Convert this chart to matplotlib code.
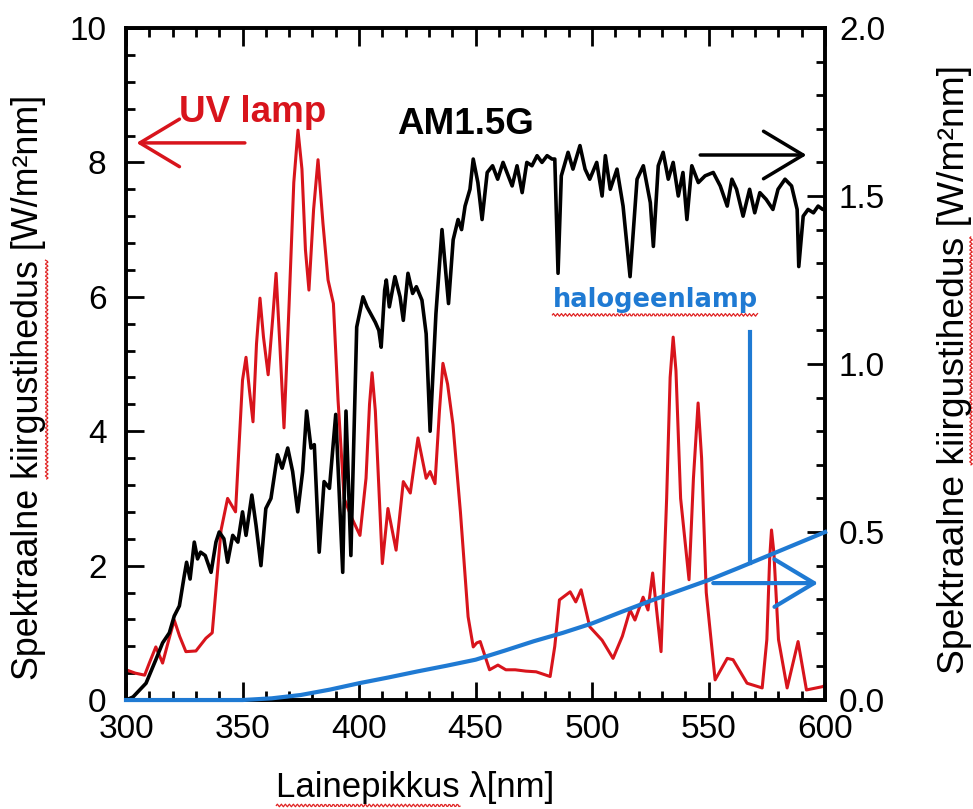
import numpy as np
import matplotlib
matplotlib.use('Agg')
import matplotlib.pyplot as plt
from matplotlib.ticker import MultipleLocator, FormatStrFormatter
from matplotlib.lines import Line2D

plt.rcParams['font.family'] = ['Liberation Sans', 'DejaVu Sans']

RED = '#d8141c'
BLUE = '#1f7ad3'
LABEL_FONT = ['Liberation Sans Narrow', 'Liberation Sans', 'DejaVu Sans']

# UV lamp spectrum, left axis [W/m2nm]
uv_wl = [300, 304, 308, 310, 312.8, 315.7, 318, 320.7, 323, 325.7, 330, 334.3, 337, 340.8, 343.6,
         347, 350, 351.5, 353, 354.5, 356, 357.5, 359, 361, 363, 364.4, 366, 367.8, 370,
         372, 373.8, 375.5, 377, 378.5, 380.5, 382.4, 384.5, 386.7, 389, 391, 393.6, 397,
         400.4, 403, 404.5, 405.6, 407, 410, 412.4, 415.9, 419, 422, 425.3, 428.8, 430.5,
         432.6, 434.5, 436, 438, 440.3, 443.5, 446.8, 449, 450.5, 452, 456, 459.6, 463, 467,
         471.6, 476, 482, 484, 486, 490.6, 493, 495.3, 499, 504.3, 509, 513, 516.3, 518.4,
         521.9, 524, 526, 529.6, 532, 533.5, 534.8, 536, 538, 541.6, 543.5, 545.5, 547,
         549, 552.8, 558, 560.5, 566.5, 573, 575, 576.2, 577, 578, 580, 583.7, 588.4, 592,
         599, 600]
uv_val = [0.45, 0.40, 0.37, 0.55, 0.79, 0.55, 0.85, 1.19, 0.95, 0.72, 0.73, 0.92, 1.00, 2.53,
          3.00, 2.80, 4.76, 5.10, 4.60, 4.14, 5.30, 5.98, 5.40, 4.84, 5.70, 6.35, 5.30, 4.05,
          5.90, 7.70, 8.48, 7.90, 6.70, 6.10, 7.30, 8.04, 7.10, 6.25, 5.90, 4.46, 3.00, 2.70,
          2.45, 3.30, 4.40, 4.87, 4.30, 2.03, 2.85, 2.23, 3.25, 3.08, 3.90, 3.30, 3.40, 3.22,
          4.30, 5.01, 4.70, 4.10, 2.80, 1.24, 0.79, 0.85, 0.87, 0.45, 0.52, 0.45, 0.45, 0.43,
          0.42, 0.35, 0.80, 1.49, 1.61, 1.46, 1.64, 1.09, 0.89, 0.62, 0.95, 1.34, 1.19, 1.53,
          1.34, 1.89, 0.72, 3.00, 4.80, 5.40, 4.90, 3.00, 1.79, 3.30, 4.42, 3.60, 1.60, 0.30,
          0.62, 0.60, 0.25, 0.18, 0.90, 2.10, 2.53, 2.20, 0.90, 0.18, 0.87, 0.15, 0.20, 0.22]

# AM1.5G solar spectrum, right axis [W/m2nm]
am_wl = [300, 303, 308.6, 312.8, 315.7, 318.6, 320.7, 322.9, 325, 326, 327.5, 329.3, 330.7, 332,
         334, 336.5, 338.6, 340, 342, 343.6, 345.8, 348, 350, 351.5, 354, 355.8, 357.9, 360,
         362.2, 365, 367, 369.4, 371.5, 373.7, 375.8, 377.5, 379.4, 380.8, 382.9, 385, 387.3,
         390, 393, 394.4, 396.5, 399, 401.7, 403.4, 407, 408.5, 409.5, 411, 411.7, 413,
         415.4, 417.6, 419, 421, 423, 424.6, 427, 428.8, 430.5, 433, 435.6, 438.4, 440.4,
         442.5, 444, 445.5, 447.6, 449, 451, 452.8, 455, 457.3, 459.5, 461.8, 465.7, 467.8,
         470, 472, 474.2, 476.4, 478.5, 480.7, 482.8, 484, 485.4, 486.8, 489.7, 491.8, 494.8,
         497, 499, 502, 504.3, 505.7, 507.8, 510.7, 513.3, 516.3, 519.3, 522, 525, 526.3,
         528.4, 530.5, 532.7, 534.8, 537, 539, 540.7, 542.8, 545.6, 548.5, 552, 555, 558,
         560, 562, 564.8, 567.6, 569.8, 572, 574.7, 577.6, 579.8, 582.8, 585.6, 588, 588.7,
         590.6, 592.7, 595, 597, 599, 600]
am_val = [0.0, 0.009, 0.05, 0.12, 0.17, 0.20, 0.25, 0.28, 0.37, 0.41, 0.36, 0.47, 0.42, 0.44,
          0.43, 0.38, 0.47, 0.50, 0.48, 0.41, 0.49, 0.47, 0.56, 0.49, 0.61, 0.52, 0.40, 0.57,
          0.60, 0.73, 0.69, 0.75, 0.68, 0.56, 0.68, 0.86, 0.75, 0.76, 0.44, 0.65, 0.63, 0.85,
          0.38, 0.86, 0.43, 1.11, 1.20, 1.17, 1.124, 1.10, 1.05, 1.22, 1.25, 1.17, 1.26, 1.20,
          1.13, 1.27, 1.21, 1.23, 1.19, 1.09, 0.80, 1.15, 1.40, 1.18, 1.37, 1.43, 1.40, 1.47,
          1.52, 1.61, 1.54, 1.43, 1.57, 1.59, 1.55, 1.60, 1.53, 1.59, 1.51, 1.60, 1.59, 1.62,
          1.60, 1.62, 1.61, 1.61, 1.27, 1.56, 1.63, 1.58, 1.65, 1.58, 1.55, 1.60, 1.50, 1.62,
          1.52, 1.58, 1.47, 1.26, 1.55, 1.59, 1.48, 1.35, 1.59, 1.63, 1.55, 1.60, 1.50, 1.57,
          1.43, 1.59, 1.54, 1.56, 1.57, 1.53, 1.47, 1.55, 1.52, 1.44, 1.52, 1.45, 1.51, 1.49,
          1.46, 1.52, 1.55, 1.53, 1.46, 1.29, 1.44, 1.46, 1.45, 1.47, 1.46, 1.46]

# halogen lamp, right axis [W/m2nm]
hal_wl = [300, 325, 350, 362.5, 375, 387.5, 400, 412.5, 425, 437.5, 450, 462.5, 475, 487.5,
          500, 512.5, 525, 537.5, 550, 562.5, 575, 587.5, 600]
hal_val = [0.0, 0.0, 0.0, 0.005, 0.015, 0.031, 0.05, 0.067, 0.085, 0.102, 0.12, 0.147, 0.175,
           0.200, 0.228, 0.262, 0.295, 0.326, 0.357, 0.392, 0.428, 0.464, 0.50]

fig = plt.figure(figsize=(9.73, 8.09), dpi=100)
ax = fig.add_axes([0.1295, 0.1347, 0.7185, 0.8307])
ax2 = ax.twinx()

ax.plot(uv_wl, uv_val, color=RED, lw=2.2, solid_joinstyle='round')
ax2.plot(am_wl, am_val, color='black', lw=2.6, solid_joinstyle='round')
ax2.plot(hal_wl, hal_val, color=BLUE, lw=3, clip_on=False, zorder=3)

ax.set_xlim(300, 600)
ax.set_ylim(0, 10)
ax2.set_ylim(0, 2.0)

ax.xaxis.set_major_locator(MultipleLocator(50))
ax.xaxis.set_minor_locator(MultipleLocator(10))
ax.yaxis.set_major_locator(MultipleLocator(2))
ax.yaxis.set_minor_locator(MultipleLocator(0.4))
ax2.yaxis.set_major_locator(MultipleLocator(0.5))
ax2.yaxis.set_minor_locator(MultipleLocator(0.1))
ax2.yaxis.set_major_formatter(FormatStrFormatter('%.1f'))

for a in (ax, ax2):
    for s in a.spines.values():
        s.set_linewidth(2.6)
ax.tick_params(which='both', direction='in', top=True, right=False, width=2,
               labelsize=24, colors='black')
ax.tick_params(which='major', length=13)
ax.tick_params(which='minor', length=6.5)
ax.tick_params(axis='y', pad=14)
ax.tick_params(axis='x', pad=10)
ax2.tick_params(which='both', direction='in', width=2, labelsize=24, pad=10)
ax2.tick_params(which='major', length=13)
ax2.tick_params(which='minor', length=6.5)

# annotations
ax.text(354.5, 8.6, 'UV lamp', color=RED, fontsize=26.5, fontweight='bold',
        ha='center', va='baseline')
ax.text(445.5, 8.42, 'AM1.5G', color='black', fontsize=26.5, fontweight='bold',
        ha='center', va='baseline')
hal_txt = ax.text(527, 5.85, 'halogeenlamp', color=BLUE, fontsize=18.5, fontweight='bold',
                  family='DejaVu Sans', ha='center', va='baseline')

head = '->,head_length=0.75,head_width=0.45'
ax.annotate('', xy=(304.5, 8.29), xytext=(351, 8.29),
            arrowprops=dict(arrowstyle=head, color=RED, lw=2.5, mutation_scale=38,
                            shrinkA=0, shrinkB=0))
ax.annotate('', xy=(592, 8.11), xytext=(546.4, 8.11),
            arrowprops=dict(arrowstyle=head, color='black', lw=2.5, mutation_scale=38,
                            shrinkA=0, shrinkB=0))
ax.add_line(Line2D([567.8, 567.8], [5.48, 2.04], color=BLUE, lw=3))
ax.annotate('', xy=(597, 1.74), xytext=(552, 1.74),
            arrowprops=dict(arrowstyle=head, color=BLUE, lw=3, mutation_scale=38,
                            shrinkA=0, shrinkB=0))

ylabel = 'Spektraalne kiirgustihedus [W/m\u00b2nm]'
yl = fig.text(0.029, 0.521, ylabel, rotation=90, ha='center', va='center',
              fontsize=25.8, family=LABEL_FONT)
yr = fig.text(0.981, 0.543, ylabel, rotation=90, ha='center', va='center',
              fontsize=26.8, family=LABEL_FONT)
xl = fig.text(0.427, 0.026, 'Lainepikkus \u03bb[nm]', ha='center', va='center',
              fontsize=25, family=LABEL_FONT)


def word_span(prefix, word, fs, family):
    """pixel offset and length of a word inside a text line"""
    r = fig.canvas.get_renderer()
    tmp = fig.text(0, 0, prefix, fontsize=fs, family=family)
    w0 = tmp.get_window_extent(r).width if prefix else 0
    tmp.set_text(word)
    w1 = tmp.get_window_extent(r).width
    tmp.remove()
    return w0, w1


def squiggle(x0, y0, length, vertical=False):
    n = max(int(length), 2)
    t = np.linspace(0, length, n)
    w = 1.3 * np.sin(t / 2.0 * np.pi)
    if vertical:
        xs, ys = x0 + w, y0 + t
    else:
        xs, ys = x0 + t, y0 + w
    fig.add_artist(Line2D(xs, ys, transform=None, color='#e02020', lw=0.9))


fig.canvas.draw()
r = fig.canvas.get_renderer()
for t in (yl, yr):
    bb = t.get_window_extent(r)
    off, ln = word_span('Spektraalne ', 'kiirgustihedus', t.get_fontsize(), LABEL_FONT)
    squiggle(min(bb.x1 + 1, fig.bbox.width - 2), bb.y0 + off, ln, vertical=True)
bb = xl.get_window_extent(r)
off, ln = word_span('', 'Lainepikkus', 25, LABEL_FONT)
squiggle(bb.x0, bb.y0 - 1, ln)
bb = hal_txt.get_window_extent(r)
squiggle(bb.x0, bb.y0 - 2, bb.width)

fig.savefig('out.png', dpi=100, facecolor='white')
